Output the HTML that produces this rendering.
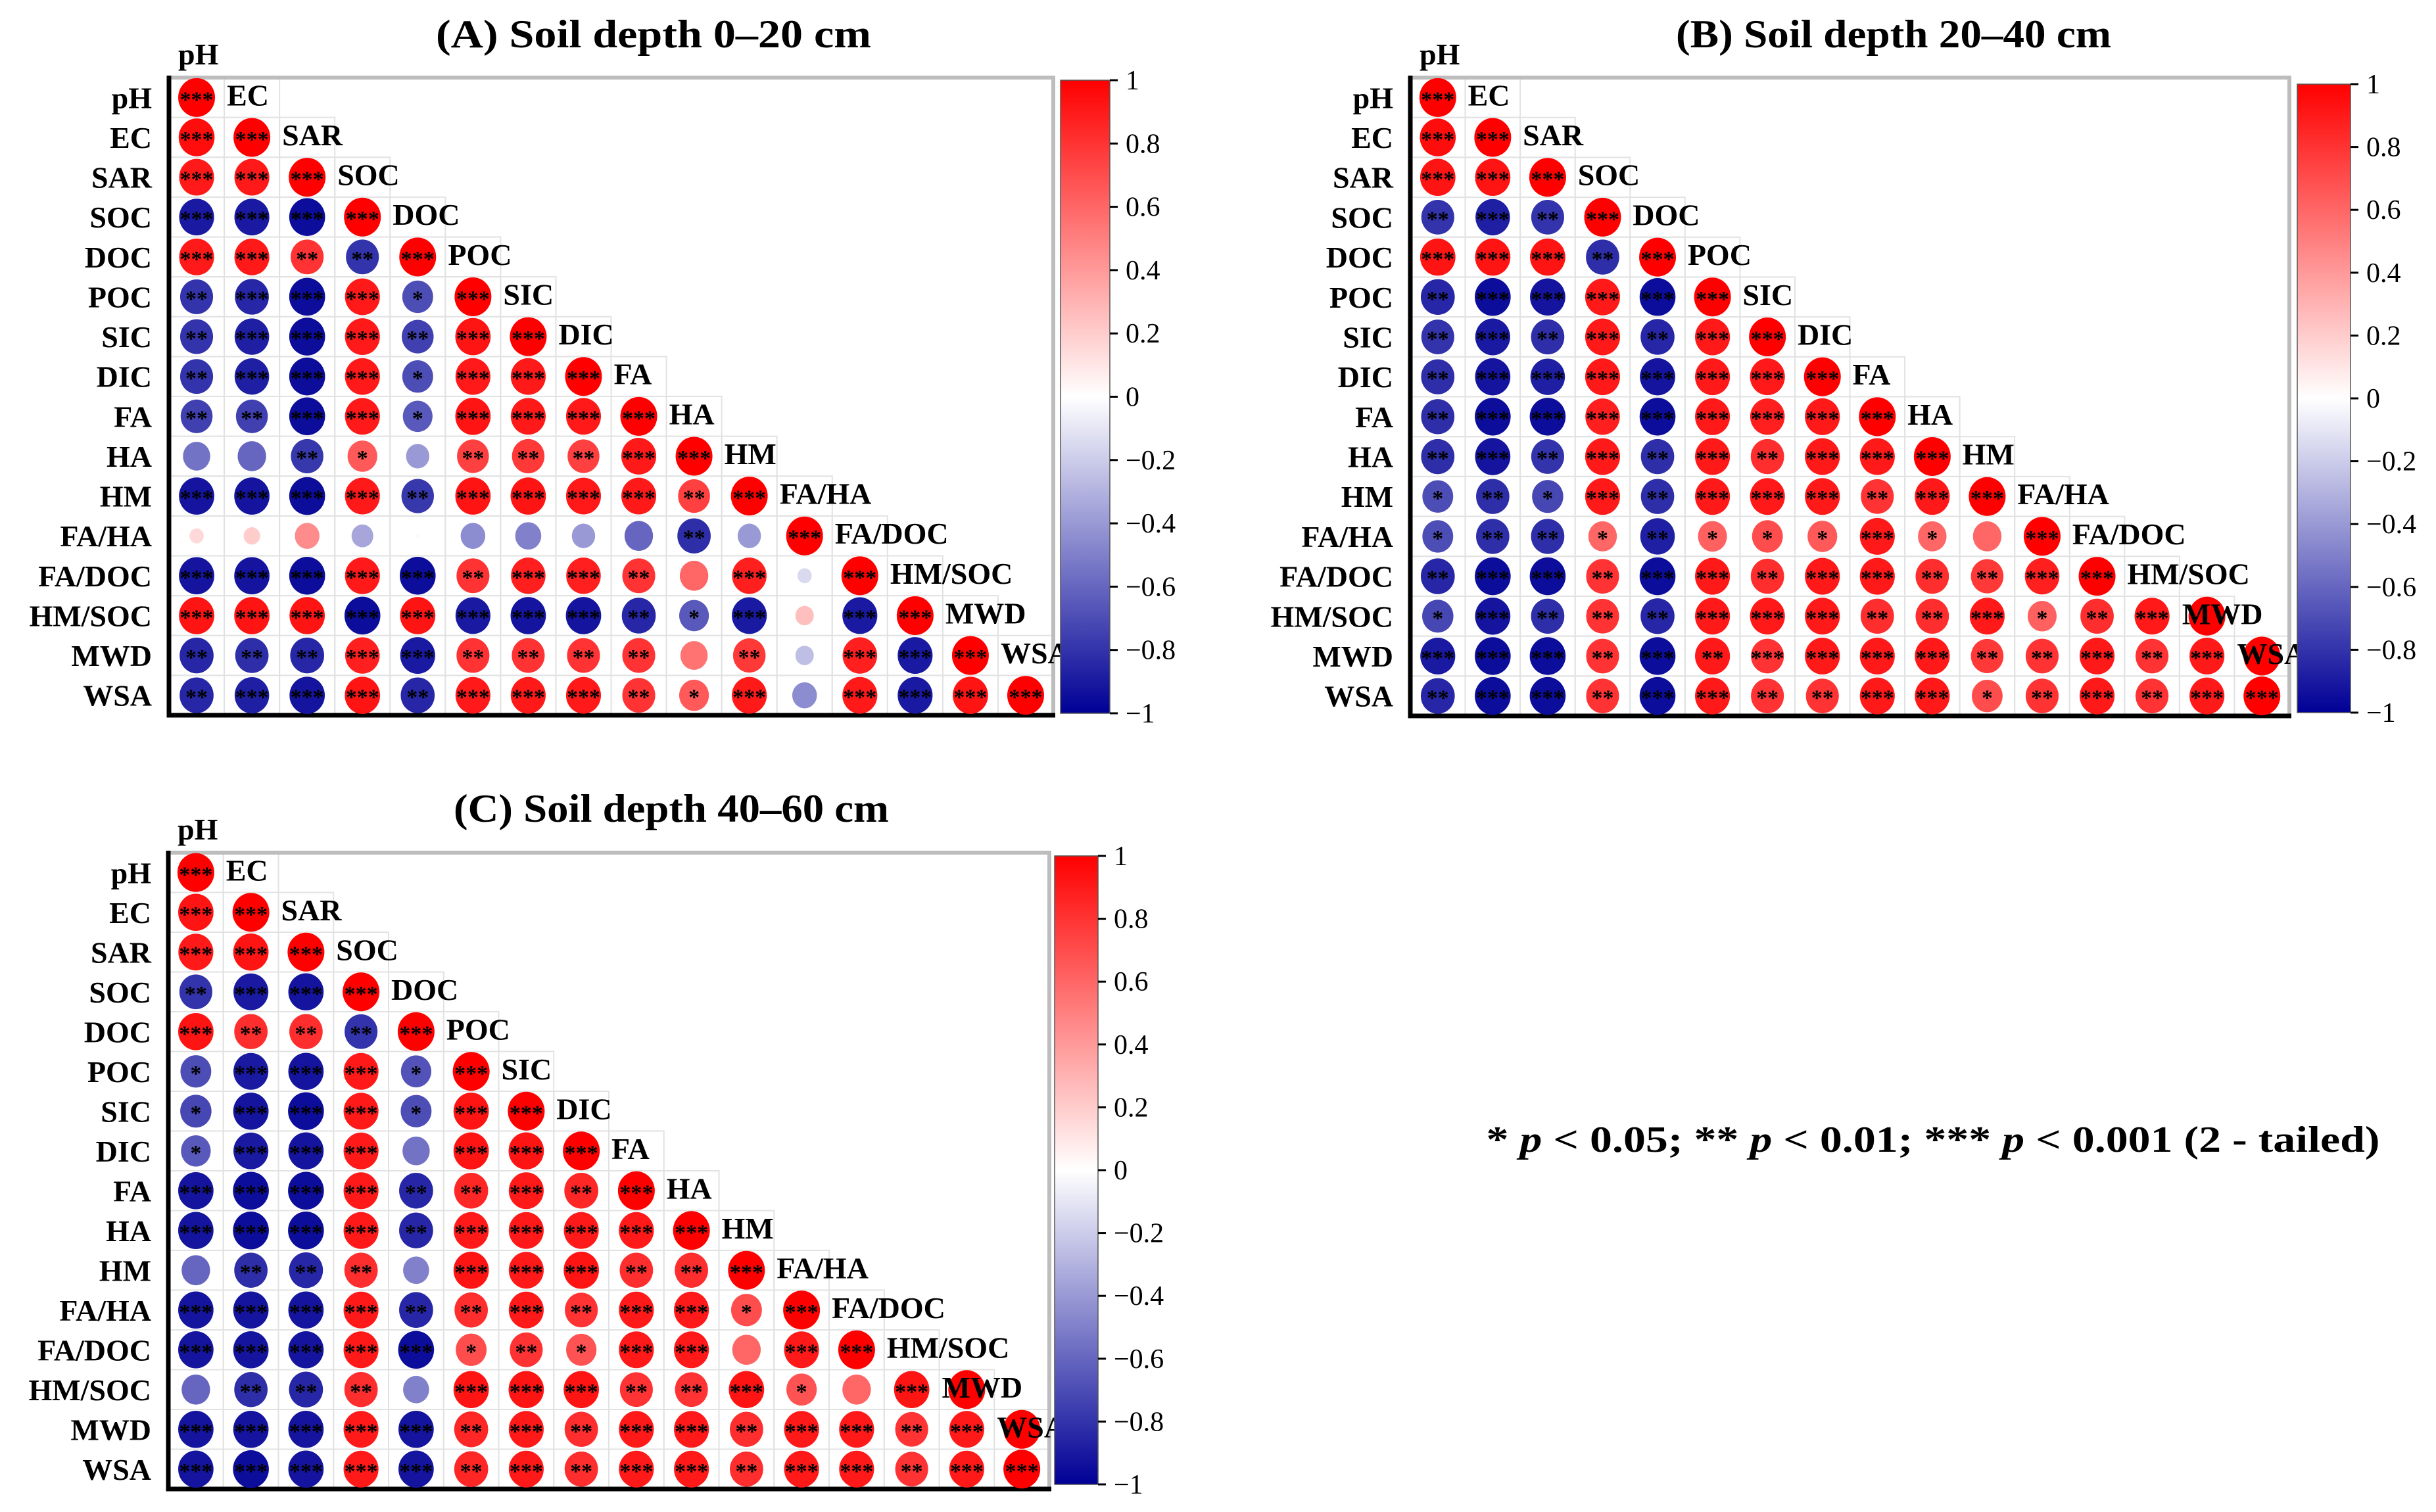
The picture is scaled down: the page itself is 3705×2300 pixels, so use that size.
<!DOCTYPE html>
<html><head><meta charset="utf-8"><title>Correlation matrices by soil depth</title>
<style>
html,body{margin:0;padding:0;background:#fff;}
svg{display:block;}
svg text{font-family:"Liberation Serif","Times New Roman",serif;}
</style></head>
<body>
<svg id="chart" width="3705" height="2300" viewBox="0 0 3705 2300" xmlns="http://www.w3.org/2000/svg">
<rect width="3705" height="2300" fill="#fff"/>
<defs>
<linearGradient id="cbar" x1="0" y1="1" x2="0" y2="0">
<stop offset="0" stop-color="rgb(0,0,150)"/>
<stop offset="0.5" stop-color="#ffffff"/>
<stop offset="1" stop-color="rgb(255,0,0)"/>
</linearGradient>
</defs>
<text x="2940" y="1752" text-anchor="middle" font-family="Liberation Serif, serif" font-size="56" font-weight="bold" textLength="1359" lengthAdjust="spacingAndGlyphs">* <tspan font-style="italic">p</tspan> &lt; 0.05; ** <tspan font-style="italic">p</tspan> &lt; 0.01; *** <tspan font-style="italic">p</tspan> &lt; 0.001 (2 - tailed)</text>
</svg>
<script>
const variables = ["pH","EC","SAR","SOC","DOC","POC","SIC","DIC","FA","HA","HM","FA/HA","FA/DOC","HM/SOC","MWD","WSA"];
const tickValues = [1,0.8,0.6,0.4,0.2,0,-0.2,-0.4,-0.6,-0.8,-1];
const tickLabels = ["1","0.8","0.6","0.4","0.2","0","\u22120.2","\u22120.4","\u22120.6","\u22120.8","\u22121"];

const valsA = [
[1],
[.95,1],
[.9,.9,1],
[-.9,-.9,-.95,1],
[.9,.9,.8,-.8,1],
[-.8,-.85,-.95,.9,-.7,1],
[-.8,-.88,-.95,.9,-.75,.92,1],
[-.8,-.88,-.95,.9,-.7,.9,.9,1],
[-.75,-.75,-.95,.9,-.65,.92,.9,.9,1],
[-.55,-.6,-.78,.65,-.4,.75,.78,.75,.9,1],
[-.92,-.92,-.95,.9,-.78,.92,.92,.9,.9,.75,1],
[.15,.2,.45,-.35,.02,-.45,-.5,-.4,-.6,-.82,-.4,1],
[-.92,-.92,-.95,.9,-.95,.8,.88,.88,.8,.6,.88,-.15,1],
[.92,.92,.92,-.95,.92,-.9,-.92,-.92,-.85,-.65,-.9,.25,-.9,1],
[-.85,-.82,-.85,.88,-.9,.8,.8,.8,.8,.55,.78,-.25,.88,-.9,1],
[-.85,-.88,-.92,.92,-.85,.9,.9,.9,.8,.65,.9,-.45,.9,-.9,.92,1]];
const sigA = ["3","33","333","3333","33223","233313","2333233","23331333","223313333","0021022233",
"33332333323","000000000203","3333323320303","33333333213033","222332222020333","2333233321303333"];
const valsB = [
[1],
[.95,1],
[.92,.92,1],
[-.8,-.88,-.8,1],
[.92,.92,.92,-.82,1],
[-.85,-.95,-.92,.9,-.95,1],
[-.8,-.9,-.82,.9,-.85,.9,1],
[-.82,-.92,-.88,.9,-.92,.9,.9,1],
[-.82,-.95,-.95,.88,-.95,.9,.88,.9,1],
[-.82,-.92,-.8,.9,-.82,.9,.82,.9,.9,1],
[-.7,-.82,-.72,.9,-.82,.9,.9,.9,.8,.9,1],
[-.7,-.82,-.82,.6,-.88,.62,.7,.65,.9,.6,.6,1],
[-.85,-.95,-.95,.8,-.95,.9,.82,.9,.9,.82,.78,.88,1],
[-.72,-.92,-.82,.8,-.85,.9,.9,.9,.82,.82,.9,.62,.82,.9,1],
[-.9,-.95,-.95,.8,-.95,.9,.8,.9,.9,.9,.78,.8,.9,.8,.9,1],
[-.85,-.95,-.95,.8,-.95,.9,.8,.8,.9,.9,.7,.8,.9,.8,.9,1]];
const sigB = ["3","33","333","2323","33323","233333","2323233","23333333","233333333","2323232333",
"12132333233","122121113103","2332332332233","13222333223123","333232333322323","2332332233123233"];
const valsC = [
[1],
[.92,1],
[.9,.92,1],
[-.8,-.9,-.92,1],
[.92,.82,.82,-.8,1],
[-.7,-.9,-.92,.9,-.68,1],
[-.72,-.92,-.95,.9,-.7,.92,1],
[-.65,-.9,-.92,.9,-.55,.92,.92,1],
[-.92,-.95,-.95,.9,-.85,.85,.9,.85,1],
[-.92,-.95,-.95,.9,-.85,.9,.9,.9,.9,1],
[-.6,-.82,-.85,.82,-.5,.92,.9,.92,.82,.82,1],
[-.92,-.92,-.92,.9,-.85,.82,.9,.8,.9,.9,.7,1],
[-.92,-.92,-.92,.9,-.95,.7,.8,.68,.9,.9,.6,.9,1],
[-.6,-.82,-.85,.82,-.5,.92,.92,.92,.8,.8,.92,.68,.6,.92,1],
[-.92,-.92,-.92,.9,-.92,.85,.9,.82,.9,.9,.82,.9,.9,.8,.9,1],
[-.92,-.95,-.92,.9,-.92,.85,.9,.82,.9,.9,.82,.9,.9,.8,.9,1]];
const sigC = ["3","33","333","2333","32223","133313","1333133","13330333","333322323","3333233333",
"02220333223","333322323313","3333312133033","02220333223103","333332323323323","3333323233233233"];

const panels = [
 {id:"a", title:"(A) Soil depth 0\u201320 cm", vals:valsA, sig:sigA, L:257, T:118, R:1602, B:1088, tx:994, ty:72, cb:[1613,122,1688,1085]},
 {id:"b", title:"(B) Soil depth 20\u201340 cm", vals:valsB, sig:sigB, L:2145, T:118, R:3482, B:1089, tx:2880, ty:72, cb:[3494,128,3575,1084]},
 {id:"c", title:"(C) Soil depth 40\u201360 cm", vals:valsC, sig:sigC, L:256, T:1297, R:1596, B:2265, tx:1021, ty:1250, cb:[1604,1302,1670,2258]}
];

const NS = "http://www.w3.org/2000/svg";
const FONT = "Liberation Serif, Times New Roman, serif";
const svg = document.getElementById("chart");
function mk(tag, attrs, parent){
  const e = document.createElementNS(NS, tag);
  for (const k in attrs) e.setAttribute(k, attrs[k]);
  if (tag === "text") e.setAttribute("font-family", FONT);
  (parent||svg).appendChild(e);
  return e;
}
function color(r){
  const t = Math.min(1, Math.abs(r));
  if (r >= 0) return `rgb(255,${Math.round(255*(1-t))},${Math.round(255*(1-t))})`;
  return `rgb(${Math.round(255*(1-t))},${Math.round(255*(1-t))},${Math.round(255-105*t)})`;
}

panels.forEach(p => {
  const g = mk("g", {});
  
  
  const n = variables.length;
  const cw = (p.R - p.L) / n, ch = (p.B - p.T) / n;
  const xAt = j => p.L + (j + 0.5) * cw;
  const yAt = i => p.T + (i + 0.5) * ch;

  const title = mk("text", {x:p.tx, y:p.ty, "text-anchor":"middle", "font-size":60, "font-weight":"bold", textLength:662, lengthAdjust:"spacingAndGlyphs"}, g);
  title.textContent = p.title;
  
  

  for (let i = 0; i < n; i++) {
    for (let j = 0; j <= Math.min(i + 1, n - 1); j++) {
      const c = mk("rect", {x:p.L + j*cw, y:p.T + i*ch, width:cw, height:ch, fill:"none", stroke:"#e2e2e2", "stroke-width":2}, g);
      
      
    }
  }
  const fr1 = mk("path", {d:`M${p.L},${p.T} H${p.R} V${p.B}`, fill:"none", stroke:"#bdbdbd", "stroke-width":6}, g);
  
  
  const fr2 = mk("path", {d:`M${p.L},${p.T-3} V${p.B} H${p.R+3}`, fill:"none", stroke:"#000", "stroke-width":7}, g);
  
  

  for (let i = 0; i < n; i++) {
    const row = p.vals[i], srow = p.sig[i] || "";
    for (let j = 0; j < row.length; j++) {
      const r = row[j];
      const s = Math.sqrt(Math.abs(r));
      const el = mk("ellipse", {cx:xAt(j), cy:yAt(i), rx:28*s, ry:29.5*s, fill:color(r)}, g);
      
      
      const k = parseInt(srow[j] || "0");
      if (k > 0) {
        const st = mk("text", {x:xAt(j), y:yAt(i) + 14, "text-anchor":"middle", "font-size":34, "font-weight":"bold", fill:"#000"}, g);
        st.textContent = "*".repeat(k);
        
        
      }
    }
  }
  variables.forEach((v, i) => {
    const t = mk("text", {x:p.L - 26, y:yAt(i) + 16, "text-anchor":"end", "font-size":46, "font-weight":"bold"}, g);
    t.textContent = v;
    
    
  });
  const top = mk("text", {x:p.L + 14, y:p.T - 20, "font-size":46, "font-weight":"bold"}, g);
  top.textContent = variables[0];
  
  
  for (let i = 0; i < n - 1; i++) {
    const t = mk("text", {x:p.L + (i+1)*cw + 4, y:yAt(i) + 12, "font-size":46, "font-weight":"bold"}, g);
    t.textContent = variables[i+1];
    
    
  }
  const [cx0, cy0, cx1, cy1] = p.cb;
  const bar = mk("rect", {x:cx0, y:cy0, width:cx1-cx0, height:cy1-cy0, fill:"url(#cbar)", stroke:"#555", "stroke-width":1.5}, g);
  
  
  const cbY = v => cy1 - (v + 1) / 2 * (cy1 - cy0);
  tickValues.forEach((v, k) => {
    const tk = mk("line", {x1:cx1, x2:cx1+12, y1:cbY(v), y2:cbY(v), stroke:"#000", "stroke-width":3}, g);
    
    
    const tl = mk("text", {x:cx1 + 24, y:cbY(v) + 14, "font-size":42}, g);
    tl.textContent = tickLabels[k];
    
    
  });
});
</script>
</body></html>
